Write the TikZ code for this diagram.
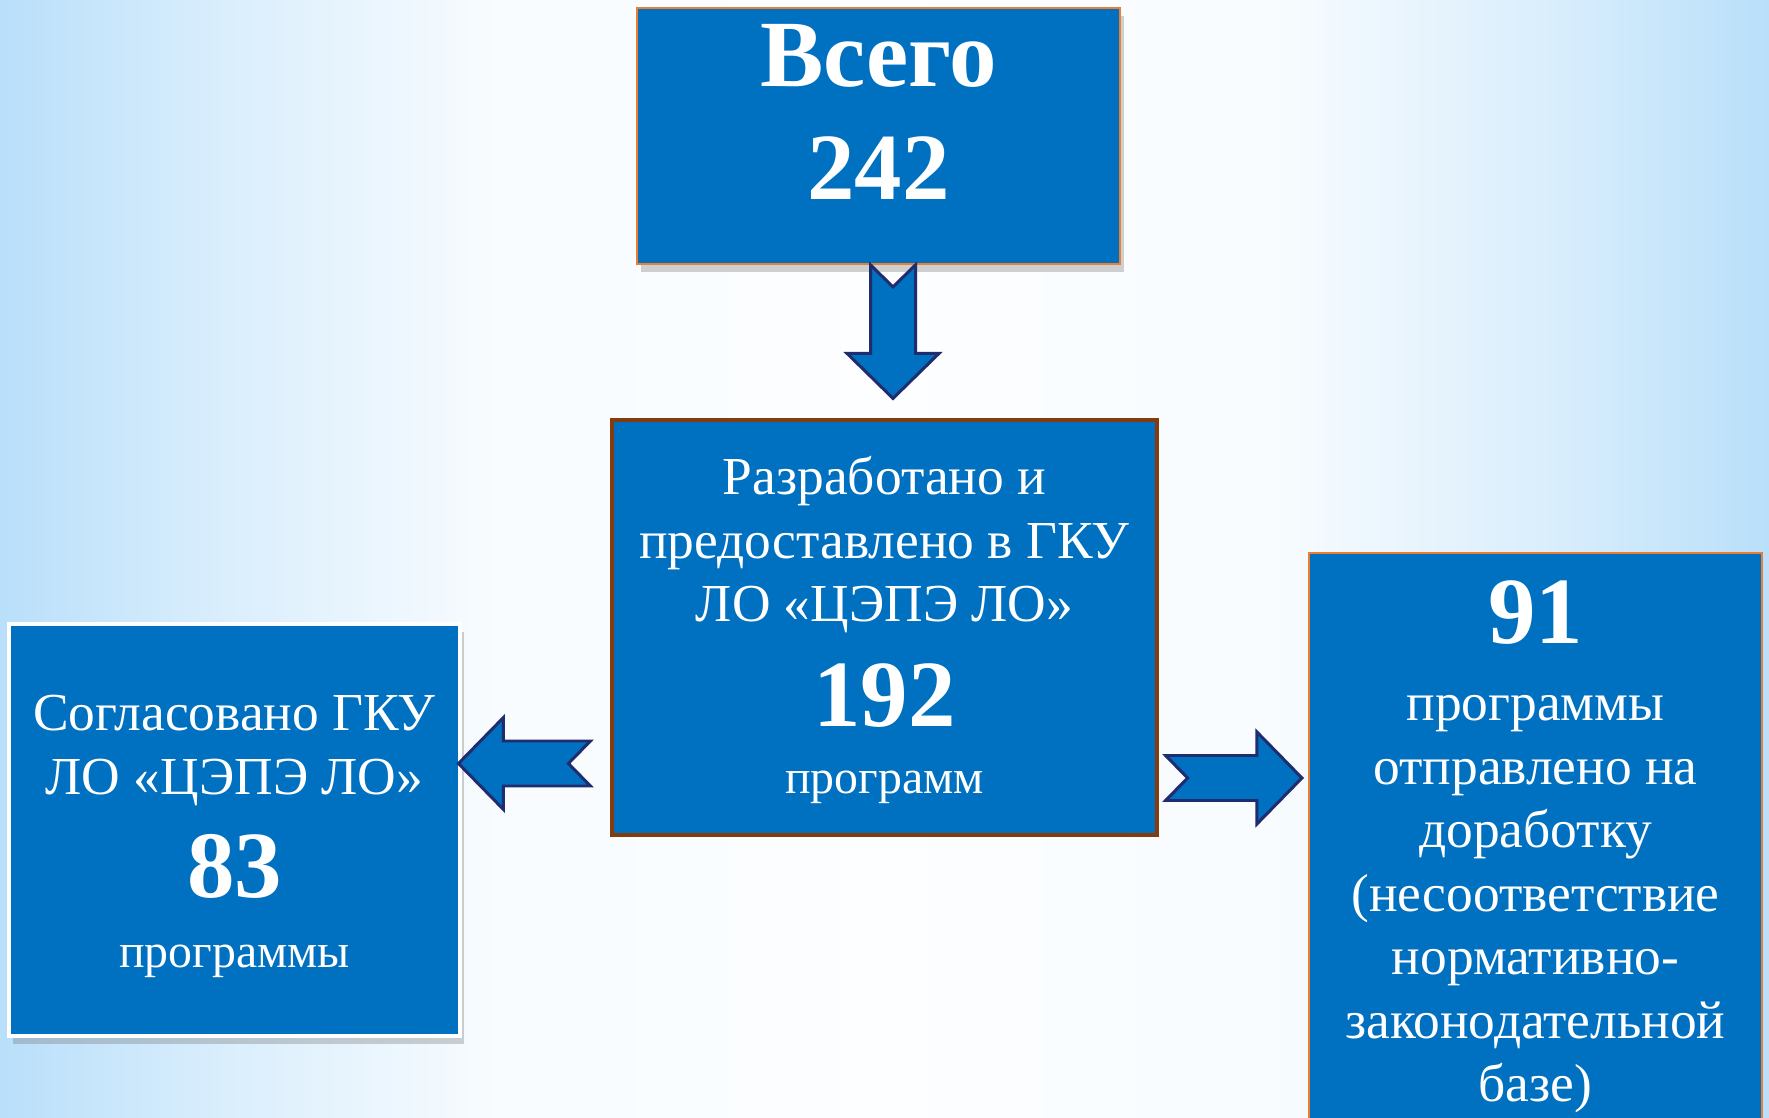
\documentclass[tikz,border=0pt]{standalone}
\usepackage{fontspec}
\setmainfont{Liberation Serif}
\usetikzlibrary{positioning}
\usetikzlibrary{calc}
\usetikzlibrary{shadows}
\usepackage{xcolor}

\definecolor{boxblue}{RGB}{0,112,192}
\definecolor{edgeorange}{RGB}{237,125,49}
\definecolor{edgebrown}{RGB}{132,60,12}
\definecolor{arrowedge}{RGB}{31,45,110}
\definecolor{bgblue}{RGB}{185,223,250}

% the path is mapped onto 25bp..75bp of the shading
\pgfdeclarehorizontalshading{backglow}{100bp}{color(0bp)=(bgblue); color(25bp)=(bgblue); color(31bp)=(white!45!bgblue); color(39bp)=(white!90!bgblue); color(50bp)=(white!96!bgblue); color(61bp)=(white!90!bgblue); color(69bp)=(white!45!bgblue); color(75bp)=(bgblue); color(100bp)=(bgblue)}

\tikzset{
  box/.style={rectangle, fill=boxblue, inner sep=0pt},
  txt/.style={anchor=base, text=white, font=\fontsize{15.2}{18}\selectfont},
  unit/.style={anchor=base, text=white, font=\fontsize{13.6}{16}\selectfont},
  num/.style={anchor=base, text=white, font=\fontsize{27}{30}\selectfont\bfseries},
  boxshadow/.style={drop shadow={shadow xshift=0.04cm, shadow yshift=-0.08cm, opacity=0.3, fill=black!60}},
  fat/.style={fill=boxblue, draw=arrowedge, line width=0.85pt, line join=miter,
    to path={($(\tikztostart)!0.225cm!90:(\tikztotarget)$)
      -- ($(\tikztotarget)!0.45cm!(\tikztostart)!0.225cm!-90:(\tikztostart)$)
      -- ($(\tikztotarget)!0.45cm!(\tikztostart)!0.46cm!-90:(\tikztostart)$)
      -- (\tikztotarget)
      -- ($(\tikztotarget)!0.45cm!(\tikztostart)!0.46cm!90:(\tikztostart)$)
      -- ($(\tikztotarget)!0.45cm!(\tikztostart)!0.225cm!90:(\tikztostart)$)
      -- ($(\tikztostart)!0.225cm!-90:(\tikztotarget)$)
      -- ($(\tikztostart)!0.22cm!(\tikztotarget)$)
      -- cycle}}
}

\begin{document}
\begin{tikzpicture}[node distance=2cm, on grid]
    \useasboundingbox (0,0) rectangle (17.69,-11.18);
    \clip (0,0) rectangle (17.69,-11.18);
    \shade[shading=backglow] (0,0) rectangle (17.69,-11.18);

    % the four boxes
    \node[box, draw=edgeorange, line width=0.5pt, minimum width=4.83cm, minimum height=2.56cm, boxshadow] (total) at (8.785,-1.36) {};
    \node[box, draw=edgebrown, line width=0.9pt, minimum width=5.45cm, minimum height=4.15cm] (made) [below=4.915cm of total, xshift=0.6mm] {};
    \node[box, draw=white, line width=1.4pt, minimum width=4.51cm, minimum height=4.12cm, boxshadow] (agreed) [below left=2.025cm and 6.5cm of made] {};
    \node[box, draw=edgeorange, line width=0.6pt, minimum width=4.53cm, minimum height=6cm] (rework) [below right=2.255cm and 6.51cm of made] {};

    % arrow ends
    \coordinate (d0) at ([xshift=0.145cm]total.south);
    \coordinate (d1) at ([xshift=0.085cm, yshift=0.2cm]made.north);
    \coordinate (l0) at ([xshift=-0.2cm, yshift=-1.36cm]made.west);
    \coordinate (l1) at ($(agreed.east |- l0)+(-0.04,0)$);
    \coordinate (r0) at ([xshift=0.07cm, yshift=-1.505cm]made.east);
    \coordinate (r1) at ($(rework.west |- r0)+(-0.06,0)$);

    \path
    (d0) edge[fat] (d1)
    (l0) edge[fat] (l1)
    (r0) edge[fat] (r1);

    % texts
    \node[num] (totalword) at ([yshift=-0.79cm]total.north) {Всего};
    \node[num] (totalnum) at ([yshift=-1.92cm]total.north) {242};

    \foreach \lbl [count=\i] in {Разработано и, предоставлено в ГКУ, ЛО «ЦЭПЭ ЛО»}
        \node[txt] (made\i) at ([yshift={-0.13cm-\i*0.635cm}]made.north) {\lbl};
    \node[num] (madenum) at ([yshift=-3.08cm]made.north) {192};
    \node[unit] (madeunit) at ([yshift=-3.75cm]made.north) {программ};

    \foreach \lbl [count=\i] in {Согласовано ГКУ, ЛО «ЦЭПЭ ЛО»}
        \node[txt] (agreed\i) at ([yshift={-0.455cm-\i*0.635cm}]agreed.north) {\lbl};
    \node[num] (agreednum) at ([yshift=-2.76cm]agreed.north) {83};
    \node[unit] (agreedunit) at ([yshift=-3.46cm]agreed.north) {программы};

    \node[num] (reworknum) at ([yshift=-0.92cm]rework.north) {91};
    \foreach \lbl [count=\i] in {программы, отправлено на, доработку, {(несоответствие}, нормативно-, законодательной, {базе)}}
        \node[txt] (rework\i) at ([yshift={-1.055cm-\i*0.635cm}]rework.north) {\lbl};
\end{tikzpicture}
\end{document}
